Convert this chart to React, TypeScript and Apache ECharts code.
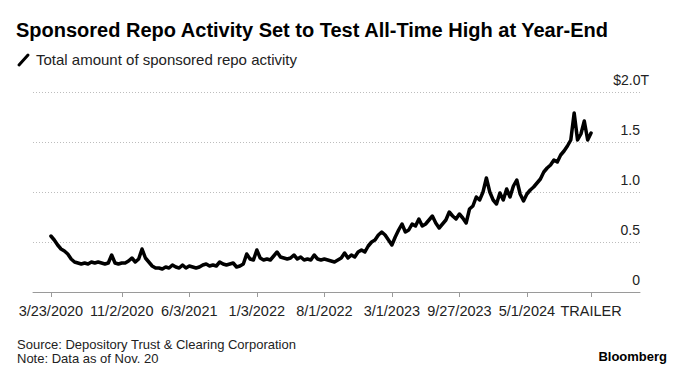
import React, { useEffect, useRef } from "react";
import * as echarts from "echarts";

const tickLabels = ["3/23/2020", "11/2/2020", "6/3/2021", "1/3/2022", "8/1/2022", "3/1/2023", "9/27/2023", "5/1/2024", "TRAILER"];
const tickIndex = [0, 21, 41, 61, 81, 101, 121, 141, 160];

// Sponsored repo activity, $ trillions
const repoPart1 = [
  0.56, 0.52, 0.47, 0.43, 0.41, 0.38, 0.33, 0.30, 0.29, 0.28,
  0.29, 0.28, 0.30, 0.29, 0.30, 0.29, 0.28, 0.29, 0.37, 0.29,
  0.28, 0.29, 0.29, 0.31, 0.34, 0.30, 0.33, 0.43, 0.34, 0.30,
  0.26, 0.24, 0.24, 0.23, 0.25, 0.24, 0.27, 0.25, 0.24, 0.27,
  0.24, 0.26, 0.25, 0.24, 0.25, 0.27, 0.28, 0.26, 0.27, 0.26,
];
const repoPart2 = [
  0.30, 0.28, 0.27, 0.28, 0.29, 0.25, 0.26, 0.28, 0.38, 0.33,
  0.32, 0.42, 0.34, 0.32, 0.33, 0.32, 0.36, 0.40, 0.35, 0.34,
  0.33, 0.34, 0.37, 0.33, 0.35, 0.32, 0.33, 0.32, 0.37, 0.33,
  0.32, 0.33, 0.32, 0.31, 0.30, 0.32, 0.34, 0.39, 0.34, 0.37,
  0.35, 0.40, 0.42, 0.40, 0.46, 0.50, 0.52, 0.57, 0.60, 0.57,
];
const repoPart3 = [
  0.52, 0.47, 0.55, 0.62, 0.68, 0.60, 0.62, 0.68, 0.66, 0.73,
  0.66, 0.68, 0.72, 0.76, 0.69, 0.64, 0.68, 0.72, 0.80, 0.76,
  0.73, 0.78, 0.74, 0.69, 0.83, 0.86, 0.95, 0.92, 1.00, 1.14,
  1.00, 0.92, 0.88, 0.99, 0.92, 1.03, 0.95, 1.06, 1.12, 0.98,
  0.91, 0.98, 1.02, 1.05, 1.09, 1.13, 1.20, 1.24, 1.27, 1.32,
];
const repoPart4 = [1.30, 1.37, 1.41, 1.46, 1.52, 1.79, 1.52, 1.58, 1.71, 1.52, 1.59];
const repoValues = [...repoPart1, ...repoPart2, ...repoPart3, ...repoPart4];

const FONT = "'Liberation Sans', Arial, sans-serif";

export default function App() {
  const ref = useRef<HTMLDivElement>(null);
  useEffect(() => {
    if (!ref.current) return;
    const chart = echarts.init(ref.current, null, { renderer: "svg" });
    const data = repoValues.map((v, i) => [i, v]);
    chart.setOption({
      animation: false,
      backgroundColor: "#ffffff",
      textStyle: { fontFamily: FONT },
      grid: { left: 33, right: 44, top: 92, bottom: 89, containLabel: false, outerBoundsMode: "none" },
      xAxis: {
        type: "value",
        min: -5.3,
        max: 174.5,
        axisLine: { show: true, lineStyle: { color: "#9a9a9a", width: 1 } },
        axisTick: { show: true, length: 5, lineStyle: { color: "#9a9a9a" }, customValues: tickIndex },
        axisLabel: {
          show: true,
          customValues: tickIndex,
          color: "#222",
          fontSize: 14.5,
          fontFamily: FONT,
          margin: 11,
          formatter: (v: number) => {
            const k = tickIndex.indexOf(Math.round(v));
            return k >= 0 ? tickLabels[k] : "";
          },
        },
        splitLine: { show: false },
      },
      yAxis: {
        type: "value",
        position: "right",
        min: 0,
        max: 2,
        interval: 0.5,
        axisLine: { show: false },
        axisTick: { show: false },
        splitLine: { show: true, lineStyle: { color: "#bdbdbd", type: [1, 2], width: 1 } },
        axisLabel: {
          inside: true,
          margin: -9,
          color: "#222",
          fontSize: 14,
          fontFamily: FONT,
          verticalAlign: "bottom",
          padding: [0, 0, 5, 0],
          formatter: (v: number) => {
            if (v === 2) return "$2.0T";
            if (v === 0) return "0{sp| }";
            return v.toFixed(1) + "{sp| }";
          },
          rich: { sp: { width: 9, fontSize: 14 } },
        },
      },
      series: [
        {
          type: "line",
          data,
          showSymbol: false,
          symbol: "none",
          lineStyle: { color: "#000", width: 3.5, join: "round", cap: "round" },
        },
      ],
      graphic: [
        {
          type: "text",
          x: 16,
          y: 30,
          style: { text: "Sponsored Repo Activity Set to Test All-Time High at Year-End", font: `bold 20px ${FONT}`, fill: "#000", verticalAlign: "middle" },
        },
        {
          type: "line",
          shape: { x1: 19, y1: 65, x2: 28, y2: 55 },
          style: { stroke: "#000", lineWidth: 3, lineCap: "round" },
        },
        {
          type: "text",
          x: 36,
          y: 59.5,
          style: { text: "Total amount of sponsored repo activity", font: `15px ${FONT}`, fill: "#222", verticalAlign: "middle" },
        },
        {
          type: "text",
          x: 17,
          y: 344,
          style: { text: "Source: Depository Trust & Clearing Corporation", font: `13px ${FONT}`, fill: "#222", verticalAlign: "middle" },
        },
        {
          type: "text",
          x: 17,
          y: 358,
          style: { text: "Note: Data as of Nov. 20", font: `13px ${FONT}`, fill: "#222", verticalAlign: "middle" },
        },
        {
          type: "text",
          x: 667,
          y: 356,
          style: { text: "Bloomberg", font: `bold 13px ${FONT}`, fill: "#000", align: "right", verticalAlign: "middle" },
        },
      ],
    });
    return () => chart.dispose();
  }, []);
  return <div ref={ref} style={{ position: "fixed", left: 0, top: 0, width: 684, height: 381 }} />;
}
